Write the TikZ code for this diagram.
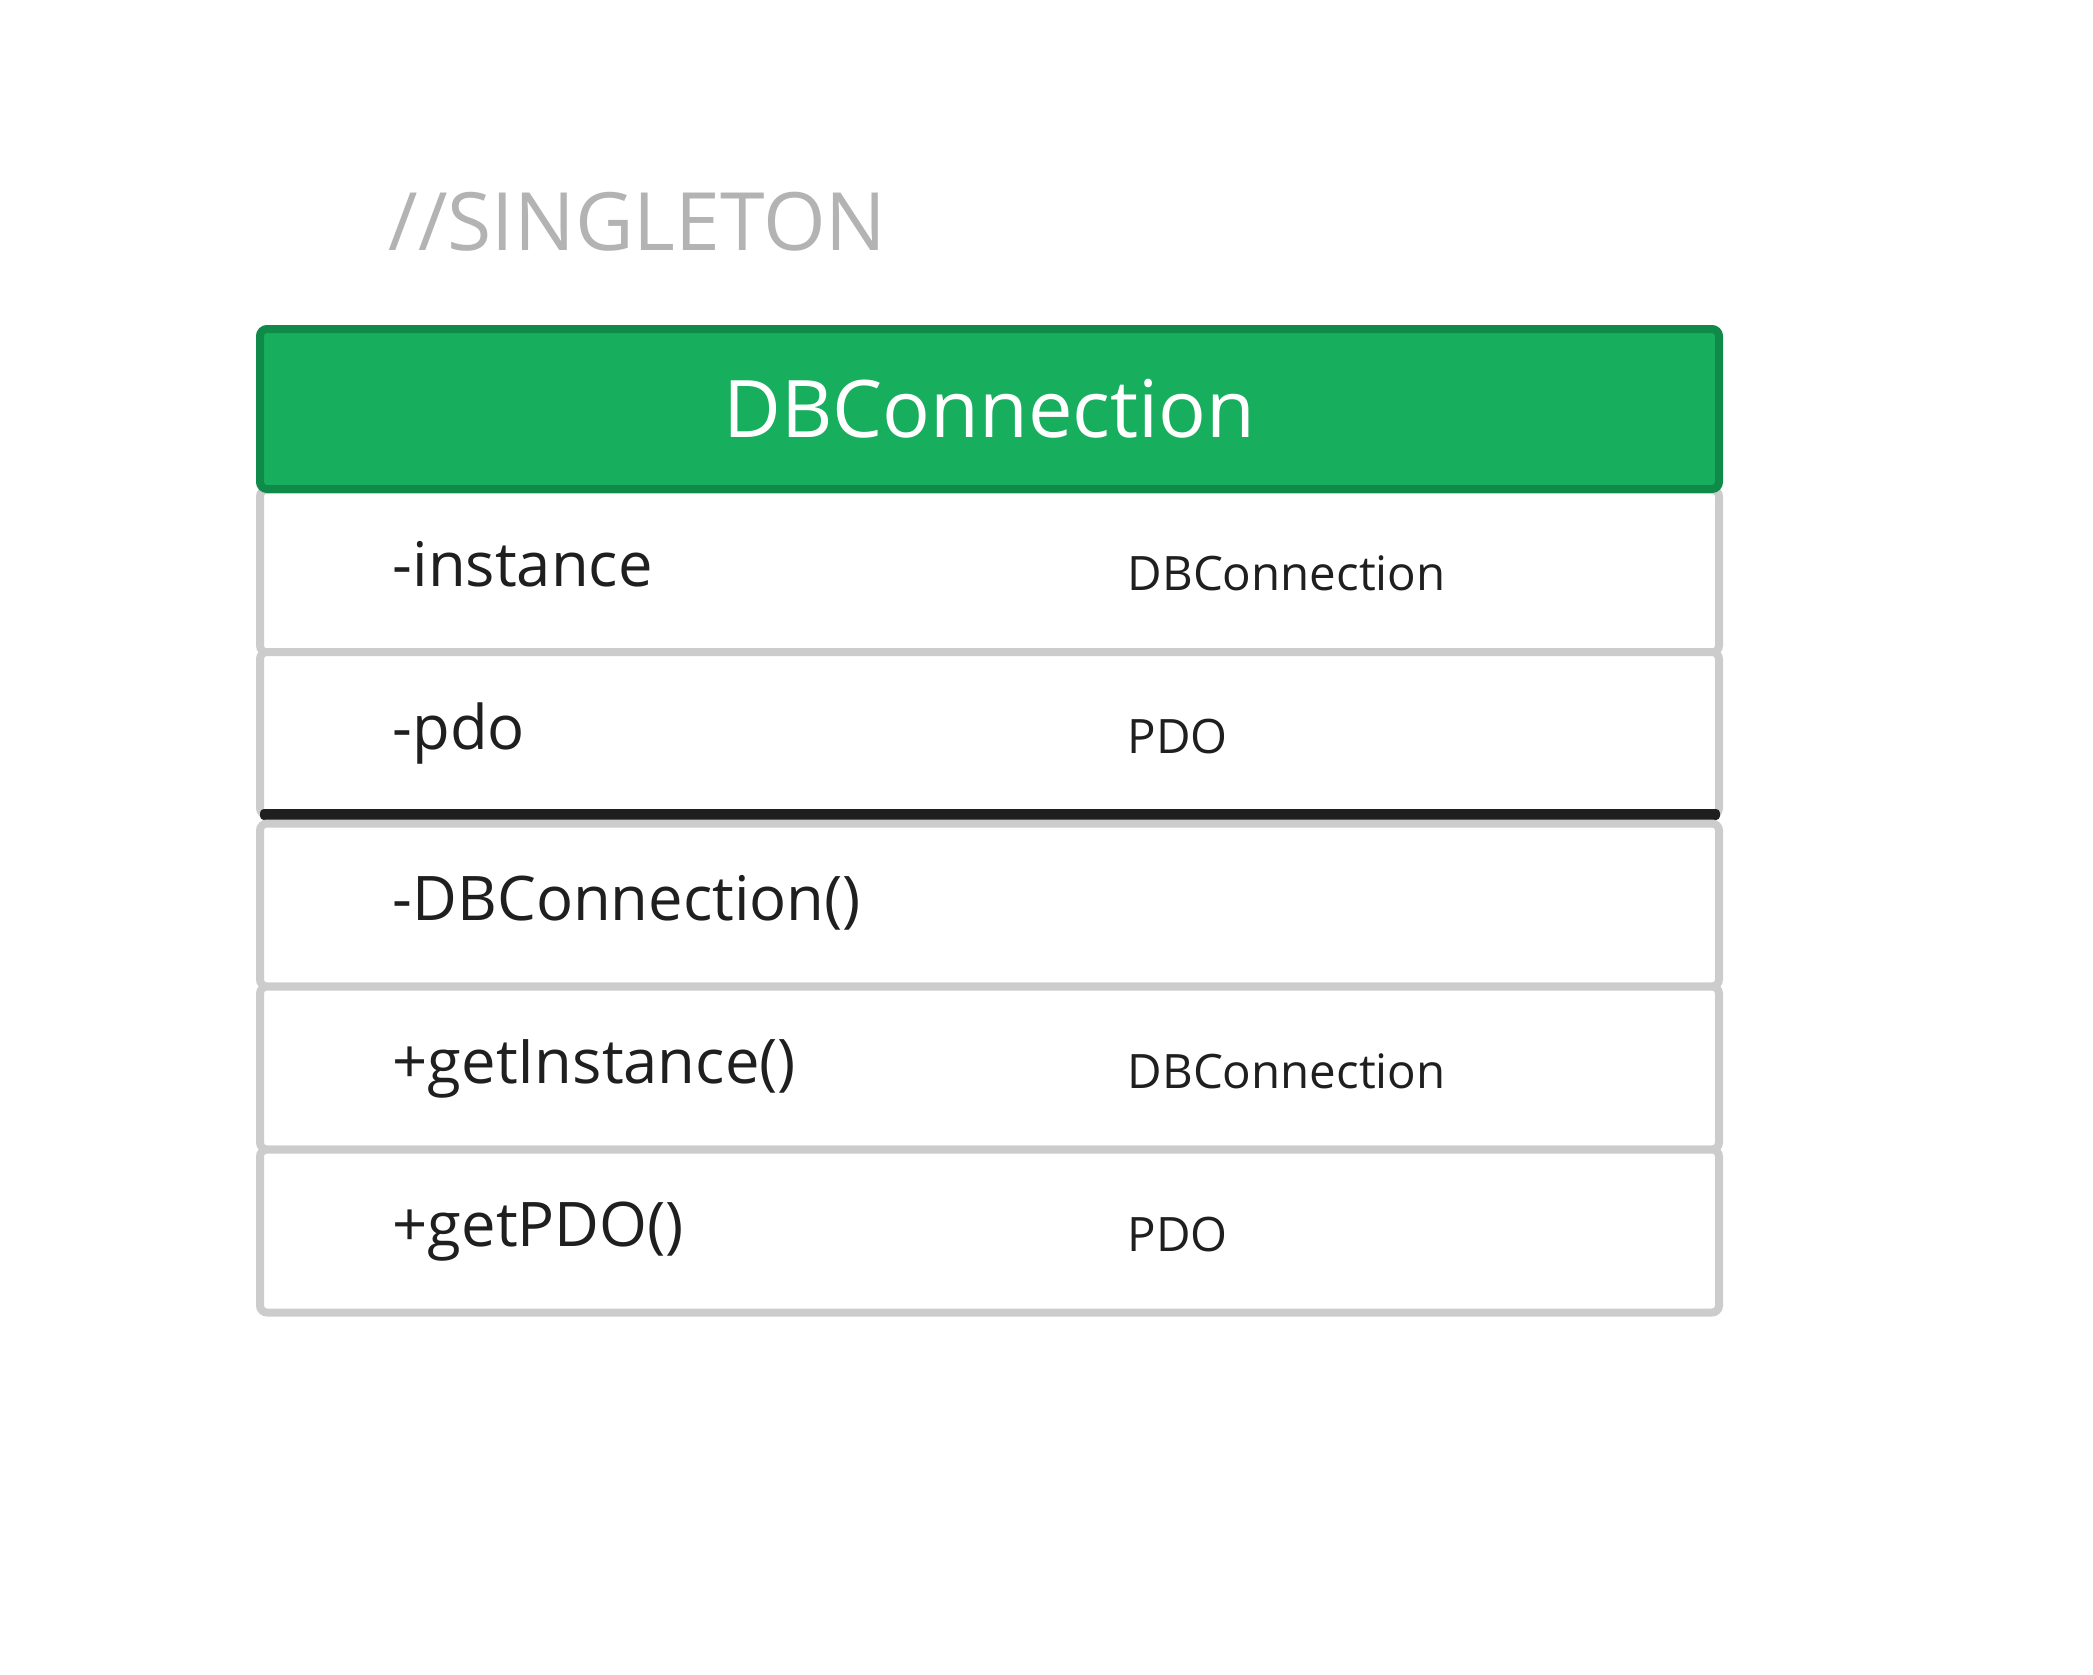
\documentclass[tikz,border=0pt]{standalone}
\usepackage{fontspec}
\setmainfont{Open Sans}
\usetikzlibrary{positioning}
\definecolor{headgreen}{HTML}{17AE5D}
\definecolor{headborder}{HTML}{108A48}
\definecolor{rowgray}{HTML}{CCCCCC}
\definecolor{titlegray}{HTML}{B3B3B3}
\definecolor{inkblack}{HTML}{1F1F1F}
\tikzset{
  rowbox/.style={draw=rowgray, line width=0.8mm, fill=white, rounded corners=0.7mm, minimum width=145.9mm, minimum height=16.3mm, inner sep=0pt},
  headbox/.style={draw=headborder, fill=headgreen, line width=0.8mm, rounded corners=0.7mm, minimum width=145.9mm, minimum height=16mm, inner sep=0pt, text=white, font=\fontsize{22.6}{26}\selectfont},
  sepbar/.style={fill=inkblack, rounded corners=0.4mm, minimum width=146mm, minimum height=1.1mm, inner sep=0pt},
  membertext/.style={anchor=base west, inner sep=0pt, text=inkblack, font=\fontsize{17.5}{20}\selectfont},
  typetext/.style={anchor=base west, inner sep=0pt, text=inkblack, font=\fontsize{13.5}{16}\selectfont}
}
\begin{document}
\begin{tikzpicture}[x=0.1mm, y=-0.1mm]
\useasboundingbox (0,0) rectangle (2093,1675);

% Title
\node[anchor=base west, inner sep=0pt, text=titlegray, font=\fontsize{22.9}{27}\selectfont] (title) at (388,250) {//SINGLETON};

% Attribute rows
\node[rowbox] (attr1) at (989.5,571) {};
\node[rowbox] (attr2) at (989.5,733.5) {};

% Separator between attributes and operations
\node[sepbar] (sep) at (990,814.5) {};

% Operation rows
\node[rowbox] (op1) at (989.5,905) {};
\node[rowbox] (op2) at (989.5,1068) {};
\node[rowbox] (op3) at (989.5,1231) {};

% Class name
\node[headbox] (head) at (989.5,409) {DBConnection};

% Members
\node[membertext] (attr1name) at (392,586) {-instance};
\node[typetext] (attr1type) at (1127,590) {DBConnection};
\node[membertext] (attr2name) at (392,749) {-pdo};
\node[typetext] (attr2type) at (1127,753) {PDO};
\node[membertext] (op1name) at (392,920) {-DBConnection()};
\node[membertext] (op2name) at (392,1083) {+getInstance()};
\node[typetext] (op2type) at (1127,1088) {DBConnection};
\node[membertext] (op3name) at (392,1246) {+getPDO()};
\node[typetext] (op3type) at (1127,1251) {PDO};

\end{tikzpicture}
\end{document}
